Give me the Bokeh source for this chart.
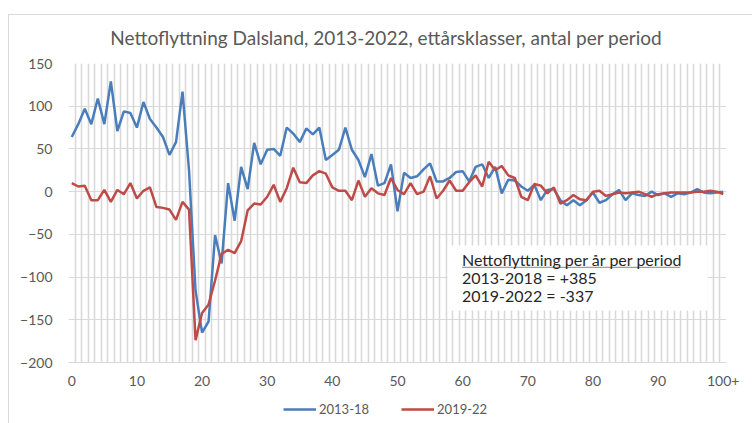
from bokeh.plotting import figure
from bokeh.layouts import column
from bokeh.models import (FixedTicker, Grid, Legend, LegendItem, BoxAnnotation,
                          Label, Range1d, ColumnDataSource, Div)
from bokeh.embed import file_html
from bokeh.resources import INLINE

ages = list(range(101))
x_tick_values = [0, 10, 20, 30, 40, 50, 60, 70, 80, 90, 100]
x_tick_labels = ["0", "10", "20", "30", "40", "50", "60", "70", "80", "90", "100+"]
y_tick_values = [-200, -150, -100, -50, 0, 50, 100, 150]

s2013_18 = [64, 79, 97, 79, 109, 79, 129, 71, 94, 92,
            75, 105, 85, 75, 64, 43, 58, 117, 25, -116,
            -165, -152, -51, -84, 10, -34, 29, 3, 57, 32,
            49, 50, 42, 75, 68, 58, 74, 67, 75, 37,
            43, 49, 75, 49, 37, 17, 44, 7, 10, 32,
            -23, 22, 16, 18, 26, 33, 12, 12, 16, 23,
            24, 12, 29, 32, 16, 29, -2, 14, 13, 6,
            1, 8, -10, 2, 3, -10, -16, -10, -16, -10,
            -1, -13, -10, -3, 2, -10, -2, -4, -5, 0,
            -4, -2, -6, -2, -3, -1, 3, -1, -2, -1,
            0]
s2019_22 = [10, 6, 7, -10, -10, 2, -12, 2, -3, 10,
            -8, 1, 5, -18, -19, -21, -33, -12, -21, -174,
            -142, -132, -104, -73, -68, -72, -58, -22, -14, -15,
            -6, 8, -12, 4, 28, 11, 10, 19, 24, 21,
            5, 1, 1, -10, 13, -6, 4, -2, -4, 16,
            2, -3, 10, -3, 0, 18, -8, 1, 13, 1,
            1, 11, 19, 6, 35, 25, 30, 19, 16, -6,
            -10, 9, 7, -2, 5, -14, -10, -4, -9, -10,
            0, 1, -5, -3, -1, -2, -1, 0, -3, -6,
            -3, -2, -1, -1, -1, -1, 0, 0, 1, 0,
            -3]

title_text = "Nettoflyttning Dalsland, 2013-2022, ettårsklasser, antal per period"
legend_labels = ["2013-18", "2019-22"]
note_lines = ["Nettoflyttning per år per period", "2013-2018 = +385", "2019-2022 = -337"]

FONT = "Lato"
GRAY = "#595959"
GRID = "#d9d9d9"
BLUE = "#4A7EBB"
RED = "#BE4B48"

src = ColumnDataSource(dict(age=ages, a=s2013_18, b=s2019_22))

title_div = Div(
    text=('<div style="box-sizing:border-box;width:743px;padding-left:11px;'
          'text-align:center;font-family:Lato;font-size:19px;color:#595959;'
          'line-height:46px;white-space:nowrap">' + title_text + '</div>'),
    width=743, height=40, margin=(0, 0, 0, 0))

p = figure(width=743, height=340, output_backend="svg", toolbar_location=None,
           title=None,
           x_range=Range1d(-0.5, 100.5), y_range=Range1d(-200, 150),
           min_border_left=59, min_border_right=26, min_border_top=8,
           min_border_bottom=33)
p.outline_line_color = None
p.background_fill_color = "white"
p.border_fill_color = "white"

# axes
p.xaxis.ticker = FixedTicker(ticks=x_tick_values)
p.xaxis.major_label_overrides = {v: l for v, l in zip(x_tick_values, x_tick_labels)}
p.yaxis.ticker = FixedTicker(ticks=y_tick_values)
for ax in (p.xaxis, p.yaxis):
    ax.major_label_text_font = FONT
    ax.major_label_text_font_size = "14px"
    ax.major_label_text_color = GRAY
    ax.major_tick_line_color = None
    ax.minor_tick_line_color = None
    ax.major_tick_out = 0
p.xaxis.axis_line_color = GRID
p.xaxis.major_label_standoff = 13
p.yaxis.axis_line_color = None
p.yaxis.major_label_standoff = 16

# grids
p.xgrid.visible = False
p.ygrid.grid_line_color = GRID
p.ygrid.grid_line_width = 1
p.ygrid.ticker = FixedTicker(ticks=y_tick_values)
vgrid = Grid(dimension=0, ticker=FixedTicker(ticks=[i - 0.5 for i in range(102)]),
             grid_line_color=GRID, grid_line_width=1.6)
p.add_layout(vgrid)

r1 = p.line("age", "a", source=src, line_color=BLUE, line_width=2.5)
r2 = p.line("age", "b", source=src, line_color=RED, line_width=2.5)

# annotation box
box = BoxAnnotation(left=57.7, right=97.6, top=-63, bottom=-139,
                    fill_color="white", fill_alpha=1.0, line_color=None)
p.add_layout(box)
for txt, yv in zip(note_lines, [-79.6, -100.7, -121.8]):
    p.add_layout(Label(x=59.9, y=yv, text=txt, text_font=FONT, text_font_size="16px",
                       text_color="#262626", text_baseline="middle", text_align="left"))
underline = BoxAnnotation(left=59.9, right=93.4, top=-88.6, bottom=-88.6,
                          fill_alpha=0, line_color="#262626", line_width=1)
p.add_layout(underline)

# legend figure
p2 = figure(width=743, height=28, output_backend="svg", toolbar_location=None,
            title=None, x_range=Range1d(0, 1), y_range=Range1d(1000, 1001),
            min_border=0)
p2.axis.visible = False
p2.grid.visible = False
p2.outline_line_color = None
p2.background_fill_color = "white"
p2.border_fill_color = "white"
l1 = p2.line("age", "a", source=src, line_color=BLUE, line_width=2.5)
l2 = p2.line("age", "b", source=src, line_color=RED, line_width=2.5)
legend = Legend(items=[LegendItem(label=legend_labels[0], renderers=[l1]),
                       LegendItem(label=legend_labels[1], renderers=[l2])],
                orientation="horizontal", location=(215, 4))
legend.label_text_font = FONT
legend.label_text_font_size = "13px"
legend.label_text_color = GRAY
legend.border_line_color = None
legend.background_fill_alpha = 0
legend.glyph_width = 33
legend.spacing = 32
legend.padding = 2
legend.margin = 0
legend.label_standoff = 3
p2.add_layout(legend, "center")

layout = column(title_div, p, p2, spacing=0,
                styles={"margin-left": "8px", "margin-top": "14px",
                        "border-left": "1px solid #d9d9d9",
                        "border-top": "1px solid #d9d9d9"})

open("out.html", "w").write(file_html(layout, INLINE))
